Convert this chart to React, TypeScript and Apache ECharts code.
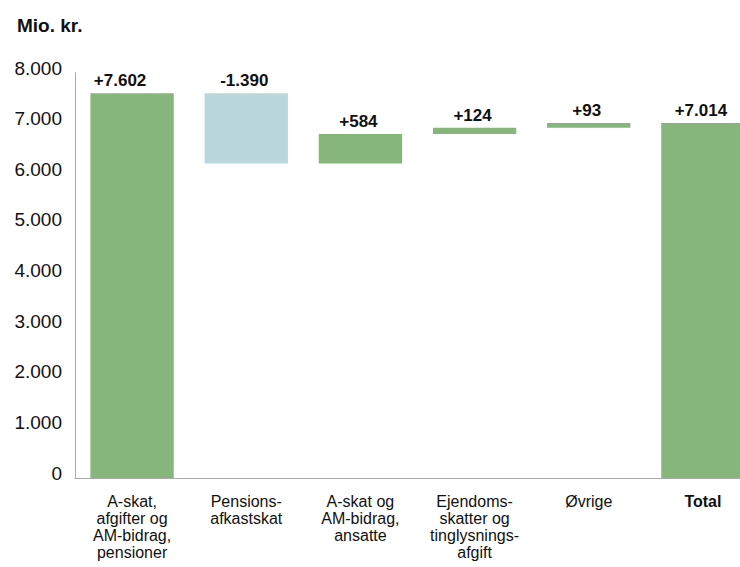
import React, { useEffect, useRef } from "react";
import * as echarts from "echarts";

const categories = [
  "A-skat,\nafgifter og\nAM-bidrag,\npensioner",
  "Pensions-\nafkastskat",
  "A-skat og\nAM-bidrag,\nansatte",
  "Ejendoms-\nskatter og\ntinglysnings-\nafgift",
  "Øvrige",
  "Total",
];
const deltas = [7602, -1390, 584, 124, 93, 7014];
const valueLabels = ["+7.602", "-1.390", "+584", "+124", "+93", "+7.014"];
const isTotal = [false, false, false, false, false, true];
const yTicks = { min: 0, max: 8000, interval: 1000 };

const GREEN = "#86b67c";
const BLUE = "#b9d7dc";

export default function App() {
  const ref = useRef<HTMLDivElement>(null);
  useEffect(() => {
    if (!ref.current) return;
    const chart = echarts.init(ref.current, undefined, { renderer: "svg" });
    const base: number[] = [];
    const heights: number[] = [];
    let run = 0;
    deltas.forEach((d, i) => {
      if (isTotal[i]) {
        base.push(0);
        heights.push(d);
      } else if (d >= 0) {
        base.push(run);
        heights.push(d);
        run += d;
      } else {
        run += d;
        base.push(run);
        heights.push(-d);
      }
    });
    const fmt = (v: number) =>
      String(v).replace(/\B(?=(\d{3})+(?!\d))/g, ".");
    chart.setOption({
      animation: false,
      textStyle: { fontFamily: "Liberation Sans, Arial, sans-serif" },
      title: {
        text: "Mio. kr.",
        left: 12,
        top: 11,
        textStyle: { fontSize: 19, fontWeight: "bold", color: "#111" },
      },
      grid: { left: 75, right: 0, top: 73, bottom: 89, containLabel: false },
      xAxis: {
        type: "category",
        data: categories,
        axisLine: { show: true, lineStyle: { color: "#aaa", width: 1 } },
        axisTick: { show: false },
        axisLabel: {
          interval: 0,
          margin: 15,
          fontSize: 16,
          lineHeight: 17,
          color: "#111",
          formatter: (v: string) => (v === "Total" ? "{b|Total}" : v),
          rich: { b: { fontWeight: "bold", fontSize: 16, color: "#111" } },
        },
      },
      yAxis: {
        type: "value",
        min: yTicks.min,
        max: yTicks.max,
        interval: yTicks.interval,
        axisLine: { show: true, lineStyle: { color: "#aaa", width: 1 } },
        axisTick: { show: false },
        splitLine: { show: false },
        axisLabel: {
          fontSize: 19,
          color: "#111",
          margin: 13,
          verticalAlign: "bottom",
          lineHeight: 10,
          formatter: (v: number) => fmt(v),
        },
      },
      series: [
        {
          type: "bar",
          stack: "w",
          data: base,
          itemStyle: { color: "transparent" },
          silent: true,
          barCategoryGap: "27%",
        },
        {
          type: "bar",
          stack: "w",
          barCategoryGap: "27%",
          data: heights.map((h, i) => ({
            value: h,
            itemStyle: { color: deltas[i] < 0 ? BLUE : GREEN },
            label: { offset: [i === 0 ? -12 : -2, 0] },
          })),
          label: {
            show: true,
            position: "top",
            distance: 4,
            fontSize: 17,
            fontWeight: "bold",
            color: "#111",
            formatter: (p: any) => valueLabels[p.dataIndex],
          },
        },
      ],
    });
    return () => chart.dispose();
  }, []);
  return (
    <div
      style={{
        position: "fixed",
        left: 0,
        top: 0,
        width: 740,
        height: 567,
        overflow: "hidden",
        background: "#fff",
      }}
    >
      <div ref={ref} style={{ width: 760, height: 567 }} />
    </div>
  );
}
